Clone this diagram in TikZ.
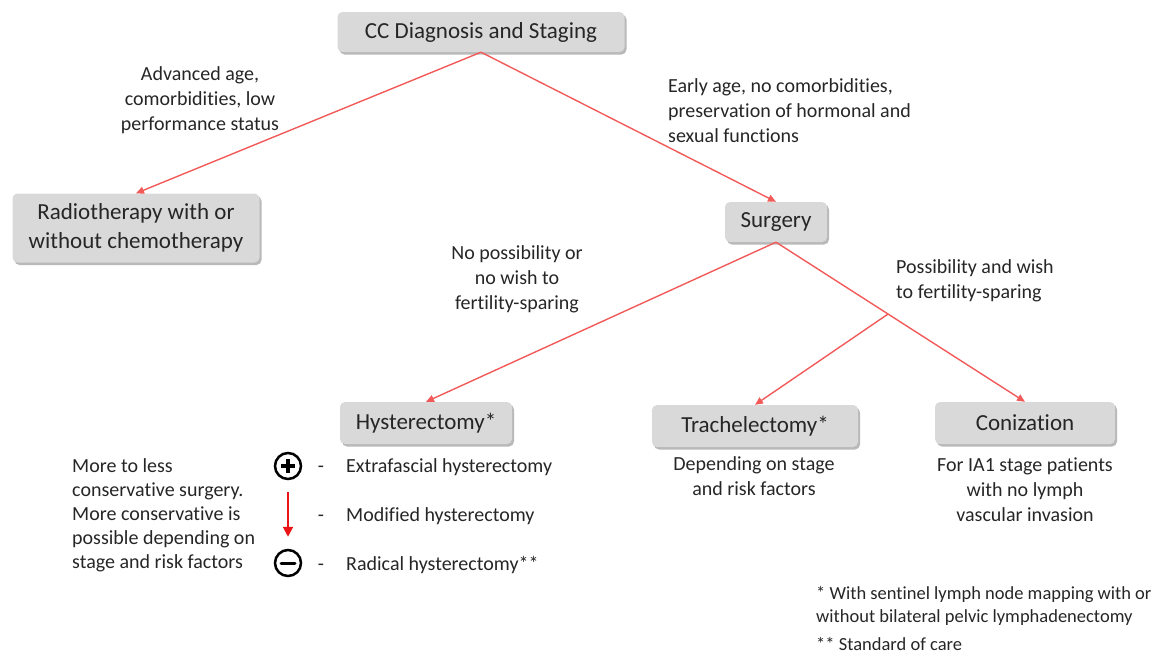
\documentclass[tikz,border=0pt]{standalone}
\usepackage{fontspec}
\setmainfont{Carlito}[Ligatures=NoCommon]
\usetikzlibrary{arrows.meta,shadows,calc}
\definecolor{linkred}{RGB}{242,90,90}
\definecolor{legred}{RGB}{235,20,20}
\definecolor{boxgray}{RGB}{217,217,217}

\begin{document}
\begin{tikzpicture}[x=1pt,y=-1pt,
    box/.style={fill=boxgray, rounded corners=5pt, inner sep=0pt, align=center,
        font=\fontsize{23}{29}\selectfont, text=black!85,
        drop shadow={shadow xshift=2pt, shadow yshift=-2.5pt, fill=black!55, opacity=0.5}},
    lbl/.style={font=\fontsize{20}{25}\selectfont, text=black!85, inner sep=0pt},
    link/.style={draw=linkred, line width=1.4pt, -{Triangle[length=8pt,width=7pt]}},
    sign/.style={circle, draw, line width=2.5pt, minimum size=26pt, inner sep=0pt}]
    \useasboundingbox (0,0) rectangle (1169,657);

    % Boxes
    \node [box, minimum width=287pt, minimum height=40pt] (diag) at (481,32) {CC Diagnosis and Staging};
    \node [box, minimum width=247pt, minimum height=69pt] (radio) at (136,228) {Radiotherapy with or\\without chemotherapy};
    \node [box, minimum width=102pt, minimum height=40pt] (surg) at (776,222) {Surgery};
    \node [box, minimum width=172pt, minimum height=42pt] (hyst) at (426,423) {Hysterectomy*};
    \node [box, minimum width=206pt, minimum height=42pt] (trach) at (755,426) {Trachelectomy*};
    \node [box, minimum width=180pt, minimum height=42pt] (coniz) at (1025,423) {Conization};

    % Connectors
    \draw [link] (diag.south) -- (radio.north);
    \draw [link] (diag.south) -- (surg.north);
    \draw [link] (surg.south) -- (hyst.north);
    \draw [link] (surg.south) -- (coniz.north);
    \coordinate (fork) at ($(surg.south)!0.45!(coniz.north)$);
    \draw [link] (fork) -- (trach.north);

    % Branch labels
    \node [lbl, align=center] (old) at (200,100) {Advanced age,\\comorbidities, low\\performance status};
    \node [lbl, align=left, anchor=west] (young) at (668,111) {Early age, no comorbidities,\\preservation of hormonal and\\sexual functions};
    \node [lbl, align=center] (nofert) at (517,279) {No possibility or\\no wish to\\fertility-sparing};
    \node [lbl, align=left, anchor=west] (fert) at (896,281) {Possibility and wish\\to fertility-sparing};
    \node [lbl, align=center] (trachnote) at (754,476) {Depending on stage\\and risk factors};
    \node [lbl, align=center] (coniznote) at (1025,490) {For IA1 stage patients\\with no lymph\\vascular invasion};

    % Left: scale of surgery
    \node [lbl, align=left, anchor=west, font=\fontsize{20}{24}\selectfont] (scale) at (72,515)
        {More to less\\conservative surgery.\\More conservative is\\possible depending on\\stage and risk factors};
    \node [sign] (plus) at (288,466) {};
    \draw [line width=4pt] ($(plus)+(-7,0)$) -- ($(plus)+(7,0)$);
    \draw [line width=4pt] ($(plus)+(0,-7)$) -- ($(plus)+(0,7)$);
    \node [sign] (minus) at (288,563) {};
    \draw [line width=3pt, line cap=round] ($(minus)+(-7,0)$) -- ($(minus)+(7,0)$);
    \draw [legred, line width=2pt, -{Triangle[length=10pt,width=10pt]},
        shorten <=12pt, shorten >=12pt] (plus) -- (minus);

    \node [lbl] (d1) at (321,469) {-};
    \node [lbl, anchor=west] (extra) at (346,467) {Extrafascial hysterectomy};
    \node [lbl] (d2) at (321,518) {-};
    \node [lbl, anchor=west] (modif) at (346,516) {Modified hysterectomy};
    \node [lbl] (d3) at (321,567) {-};
    \node [lbl, anchor=west] (radic) at (346,565) {Radical hysterectomy**};

    % Footnotes
    \node [lbl, align=left, anchor=west, font=\fontsize{18.5}{23}\selectfont] (foot1) at (816,606)
        {* With sentinel lymph node mapping with or\\without bilateral pelvic lymphadenectomy};
    \node [lbl, anchor=west, font=\fontsize{18.5}{23}\selectfont] (foot2) at (816,644) {** Standard of care};

\end{tikzpicture}
\end{document}
